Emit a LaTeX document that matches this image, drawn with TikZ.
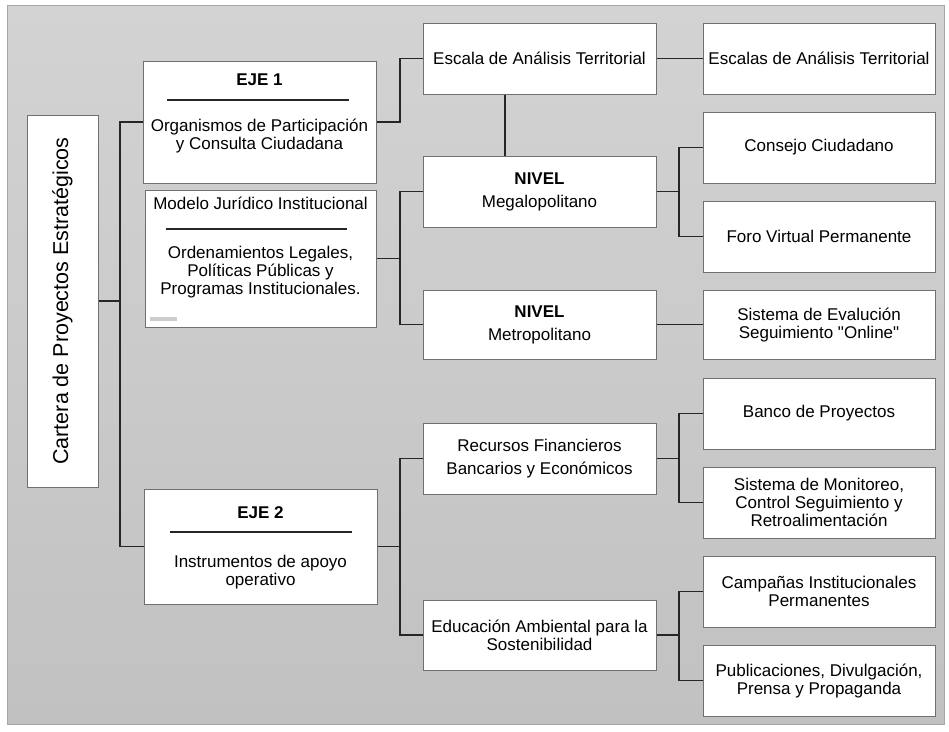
\documentclass[tikz,border=0pt]{standalone}
\usepackage{fontspec}
\setmainfont{Liberation Sans}
\newfontfamily\orgraw{Liberation Sans}
\newcommand{\orgfont}{\fontsize{17}{18}\selectfont}
\definecolor{boxgray}{RGB}{112,112,112}
\definecolor{linkgray}{RGB}{38,38,38}
\definecolor{bgtop}{RGB}{211,211,211}
\definecolor{bgbottom}{RGB}{193,193,193}
\tikzset{
  orgbox/.style={draw=boxgray, fill=white, line width=1pt, inner sep=0pt, align=center, font=\orgfont},
  orgtext/.style={align=center, font=\orgfont, inner sep=0pt},
  orglink/.style={line width=1.8pt, draw=linkgray},
  orgrule/.style={line width=1.6pt, draw=black!85}
}

\begin{document}
\begin{tikzpicture}[x=1pt, y=-1pt]
  \useasboundingbox (0,0) rectangle (949,731);
  \shade[top color=bgtop, bottom color=bgbottom, draw=gray!70] (7,5) rectangle (944,724);

  % left column
  \node[orgbox, minimum width=71pt, minimum height=372pt] (cartera) at (62.5,301) {};
  \node[orgtext, rotate=90, font=\fontsize{21.5}{22}\selectfont] (cartxt) at (cartera.center) {Cartera de Proyectos Estratégicos};

  % ejes
  \node[orgbox, minimum width=233pt, minimum height=122pt] (eje1) at (259.5,122) {};
  \node[orgtext] (eje1a) at (259.5,79.5) {\textbf{EJE 1}};
  \draw[orgrule] (167,100) -- (349,100);
  \node[orgtext] (eje1b) at (259.5,136) {Organismos de Participación\\y Consulta Ciudadana};

  \node[orgbox, minimum width=231pt, minimum height=137pt] (modelo) at (260.5,258.5) {};
  \node[orgtext] (modeloa) at (260.5,203.5) {Modelo Jurídico Institucional};
  \draw[orgrule] (166,229) -- (347,229);
  \node[orgtext] (modelob) at (260.5,272) {Ordenamientos Legales,\\Políticas Públicas y\\Programas Institucionales.};
  \fill[gray!40] (150,317) rectangle (177,321);

  \node[orgbox, minimum width=233pt, minimum height=115pt] (eje2) at (260.5,546.5) {};
  \node[orgtext] (eje2a) at (260.5,513) {\textbf{EJE 2}};
  \draw[orgrule] (170,532) -- (352,532);
  \node[orgtext] (eje2b) at (260.5,572) {Instrumentos de apoyo\\operativo};

  % middle column
  \node[orgbox, minimum width=233pt, minimum height=71pt] (escala) at (539.5,58.5) {Escala de Análisis Territorial};
  \node[orgbox, minimum width=233pt, minimum height=71pt] (mega) at (539.5,191.5) {\textbf{NIVEL}\\[5pt]Megalopolitano};
  \node[orgbox, minimum width=233pt, minimum height=69pt] (metro) at (539.5,324.5) {\textbf{NIVEL}\\[5pt]Metropolitano};
  \node[orgbox, minimum width=233pt, minimum height=71pt] (recursos) at (539.5,458.5) {Recursos Financieros\\[5pt]Bancarios y Económicos};
  \node[orgbox, minimum width=233pt, minimum height=70pt] (educ) at (539.5,635) {Educación Ambiental para la\\Sostenibilidad};

  % right column
  \node[orgbox, minimum width=232pt, minimum height=71pt] (escalas) at (819,58.5) {Escalas de Análisis Territorial};
  \node[orgbox, minimum width=232pt, minimum height=71pt] (consejo) at (819,147.5) {Consejo Ciudadano};
  \node[orgbox, minimum width=232pt, minimum height=71pt] (foro) at (819,236.5) {Foro Virtual Permanente};
  \node[orgbox, minimum width=232pt, minimum height=69pt] (sisev) at (819,324.5) {Sistema de Evalución\\Seguimiento {\orgraw "Online"}};
  \node[orgbox, minimum width=232pt, minimum height=71pt] (banco) at (819,413.5) {Banco de Proyectos};
  \node[orgbox, minimum width=232pt, minimum height=71pt] (monit) at (819,502.5) {Sistema de Monitoreo,\\Control Seguimiento y\\Retroalimentación};
  \node[orgbox, minimum width=232pt, minimum height=71pt] (camp) at (819,591.5) {Campañas Institucionales\\Permanentes};
  \node[orgbox, minimum width=232pt, minimum height=71pt] (publ) at (819,680.5) {Publicaciones, Divulgación,\\Prensa y Propaganda};

  % buses
  \coordinate (busa) at (120,0);
  \coordinate (busb) at (400,0);
  \coordinate (busc) at (679,0);
  \coordinate (busv) at (505,0);

  \draw[orglink] (cartera.east) -- (cartera.east -| busa);
  \draw[orglink] (eje1.west) -| (busa |- eje2.west) -- (eje2.west);
  \draw[orglink] (eje1.east) -| (busb |- escala.west) -- (escala.west);
  \draw[orglink] (escala) -- (escalas);
  \draw[orglink] (escala.south -| busv) -- (mega.north -| busv);
  \draw[orglink] (modelo.east) -- (modelo.east -| busb);
  \draw[orglink] (mega.west) -| (busb |- metro.west) -- (metro.west);
  \draw[orglink] (mega.east) -- (mega.east -| busc);
  \draw[orglink] (consejo.west) -| (busc |- foro.west) -- (foro.west);
  \draw[orglink] (metro) -- (sisev);
  \draw[orglink] (eje2.east) -- (eje2.east -| busb);
  \draw[orglink] (recursos.west) -| (busb |- educ.west) -- (educ.west);
  \draw[orglink] (recursos.east) -- (recursos.east -| busc);
  \draw[orglink] (banco.west) -| (busc |- monit.west) -- (monit.west);
  \draw[orglink] (educ.east) -- (educ.east -| busc);
  \draw[orglink] (camp.west) -| (busc |- publ.west) -- (publ.west);
\end{tikzpicture}
\end{document}
